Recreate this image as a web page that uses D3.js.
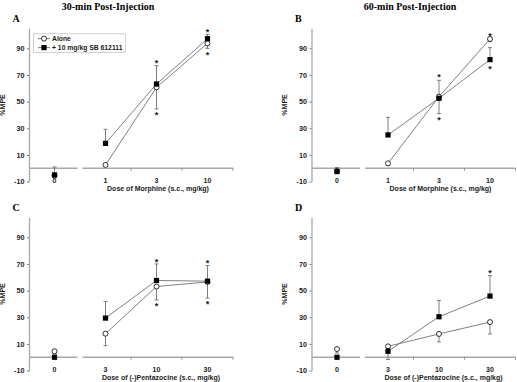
<!DOCTYPE html>
<html>
<head>
<meta charset="utf-8">
<script src="https://cdn.jsdelivr.net/npm/d3@7"></script>
<style>
  body { margin: 0; background: #fff; }
  svg { display: block; }
</style>
</head>
<body>
<div id="chart"></div>
<script>
// ── Data ───────────────────────────────────────
const MORPHINE_DOSES = ["0", "1", "3", "10"];
const PENTA_DOSES    = ["0", "3", "10", "30"];
const Y_TICKS        = [-10, 10, 30, 50, 70, 90];
const SERIES_NAMES   = ["Alone", "+ 10 mg/kg SB 612111"];
const COL_TITLES     = ["30-min Post-Injection", "60-min Post-Injection"];

// %MPE means; "alone" error bars point down, "SB" error bars point up
const A_ALONE     = [-5.5, 2.5, 60.7, 93.7];
const A_ALONE_SEM = [1, 1, 16.2, 3.7];
const A_SB        = [-5, 18.7, 63.2, 97.2];
const A_SB_SEM    = [6, 10.5, 13.8, 3.3];
const A_STARS     = [[2, 81], [2, 42], [3, 104], [3, 87]];

const B_ALONE     = [-2, 3.7, 53.7, 97];
const B_ALONE_SEM = [1.5, 1.5, 12.7, 2];
const B_SB        = [-2.5, 25, 52.5, 81.5];
const B_SB_SEM    = [3, 13.2, 13.5, 9];
const B_STARS     = [[2, 70], [2, 38], [3, 101], [3, 76]];

const C_ALONE     = [4.5, 17.7, 53.1, 56.5];
const C_ALONE_SEM = [2, 9, 10.1, 12.1];
const C_SB        = [0, 29.4, 57.6, 57.1];
const C_SB_SEM    = [1, 12.5, 12.4, 11.7];
const C_STARS     = [[2, 73], [2, 40], [3, 72.3], [3, 42]];

const D_ALONE     = [6.2, 8.2, 17.5, 26.4];
const D_ALONE_SEM = [3, 9.9, 6, 8.9];
const D_SB        = [0, 4.5, 30.4, 45.9];
const D_SB_SEM    = [1, 2, 12.2, 15.4];
const D_STARS     = [[3, 64.8]];

const panels = [
  { letter: "A", col: 0, row: 0, doses: MORPHINE_DOSES, xTitle: "Dose of Morphine (s.c., mg/kg)",
    alone: A_ALONE, aloneSem: A_ALONE_SEM, sb: A_SB, sbSem: A_SB_SEM, stars: A_STARS, legend: true },
  { letter: "B", col: 1, row: 0, doses: MORPHINE_DOSES, xTitle: "Dose of Morphine (s.c., mg/kg)",
    alone: B_ALONE, aloneSem: B_ALONE_SEM, sb: B_SB, sbSem: B_SB_SEM, stars: B_STARS },
  { letter: "C", col: 0, row: 1, doses: PENTA_DOSES, xTitle: "Dose of (-)Pentazocine (s.c., mg/kg)",
    alone: C_ALONE, aloneSem: C_ALONE_SEM, sb: C_SB, sbSem: C_SB_SEM, stars: C_STARS },
  { letter: "D", col: 1, row: 1, doses: PENTA_DOSES, xTitle: "Dose of (-)Pentazocine (s.c., mg/kg)",
    alone: D_ALONE, aloneSem: D_ALONE_SEM, sb: D_SB, sbSem: D_SB_SEM, stars: D_STARS }
];

// ── Layout ─────────────────────────────────────
const W = 517, H = 382;
const DX = 282.5, DY = 189;
const AXIS_X = 29, TOP = 28.3, PLOT_W = 204, PLOT_H = 153.3;
const SANS = "'Liberation Sans', Arial, sans-serif";
const SERIF = "'Liberation Serif', 'Times New Roman', serif";
const AXIS_GREY = "#a8a8a8", LINE_GREY = "#606060", INK = "#1a1a1a";

const svg = d3.select("#chart").append("svg").attr("width", W).attr("height", H);

// column titles
COL_TITLES.forEach((t, i) => {
  svg.append("text").attr("x", i === 0 ? 108 : 410).attr("y", 10)
    .attr("text-anchor", "middle").attr("font-family", SERIF)
    .attr("font-weight", "bold").attr("font-size", "10px").attr("fill", "#000")
    .text(t);
});

panels.forEach(drawPanel);

function drawPanel(p) {
  const ox = AXIS_X + p.col * DX;
  const top = TOP + p.row * DY;
  const g = svg.append("g");

  const y = d3.scaleLinear().domain([-10, 105]).range([top + PLOT_H, top]);
  const x = d3.scaleBand().domain(p.doses).range([ox, ox + PLOT_W]).padding(0);
  const cx = d => x(d) + x.bandwidth() / 2;
  const y0 = y(0);

  // panel letter
  g.append("text").attr("x", ox - 16.5).attr("y", top - 6.5)
    .attr("font-family", SERIF).attr("font-weight", "bold").attr("font-size", "10px")
    .attr("fill", "#000").text(p.letter);

  // Y label
  g.append("text")
    .attr("transform", `translate(${ox - 24.5},${y(47.5)}) rotate(-90)`)
    .attr("text-anchor", "middle").attr("font-family", SANS)
    .attr("font-weight", "bold").attr("font-size", "7px").attr("fill", INK)
    .text("%MPE");

  // Y axis
  const yAxis = g.append("g").attr("transform", `translate(${ox},0)`)
    .call(d3.axisLeft(y).tickValues(Y_TICKS).tickFormat(d => String(d))
      .tickSize(2).tickSizeOuter(0).tickPadding(2.5));
  yAxis.select(".domain").attr("stroke", AXIS_GREY).attr("stroke-width", 1.3);
  yAxis.selectAll(".tick line").attr("stroke", "#777");
  yAxis.selectAll("text").attr("font-family", SANS).attr("font-weight", "bold")
    .attr("font-size", "7.2px").style("fill", INK);

  // zero line, broken between first and second dose
  const brk = x(p.doses[1]);
  const zero = g.append("g").attr("stroke", AXIS_GREY).attr("stroke-width", 1.3);
  zero.append("line").attr("x1", ox).attr("x2", brk - 2.5).attr("y1", y0).attr("y2", y0);
  zero.append("line").attr("x1", brk + 2.5).attr("x2", ox + PLOT_W).attr("y1", y0).attr("y2", y0);
  // category boundary ticks
  const bounds = p.doses.slice(2).map(d => x(d)).concat([ox + PLOT_W]);
  g.selectAll(".xtick").data(bounds).join("line")
    .attr("x1", d => d).attr("x2", d => d).attr("y1", y0).attr("y2", y0 + 2.5)
    .attr("stroke", "#777").attr("stroke-width", 0.8);

  // X labels sit at the -10 level
  const xAxis = g.append("g").attr("transform", `translate(0,${y(-10)})`)
    .call(d3.axisBottom(x).tickSize(0));
  xAxis.select(".domain").remove();
  xAxis.selectAll("text").attr("y", 0).attr("dy", "0.15em")
    .attr("font-family", SANS).attr("font-weight", "bold")
    .attr("font-size", "7px").style("fill", INK);

  g.append("text").attr("x", ox + (p.row === 0 ? 129 : 132)).attr("y", y(-10) + 9)
    .attr("text-anchor", "middle").attr("font-family", SANS)
    .attr("font-weight", "bold").attr("font-size", "7px").attr("fill", INK)
    .text(p.xTitle);

  const rows = p.doses.map((d, i) => ({
    d, i, alone: p.alone[i], aloneSem: p.aloneSem[i], sb: p.sb[i], sbSem: p.sbSem[i]
  }));

  // error bars
  const eb = g.append("g").attr("stroke", LINE_GREY).attr("stroke-width", 0.8);
  rows.forEach(r => {
    [[r.sb, r.sb + r.sbSem], [r.alone, r.alone - r.aloneSem]].forEach(([a, b]) => {
      eb.append("line").attr("x1", cx(r.d)).attr("x2", cx(r.d)).attr("y1", y(a)).attr("y2", y(b));
      eb.append("line").attr("x1", cx(r.d) - 2).attr("x2", cx(r.d) + 2).attr("y1", y(b)).attr("y2", y(b));
    });
  });

  // connecting lines (not to dose 0)
  const linked = rows.slice(1);
  ["alone", "sb"].forEach(k => {
    g.append("path").datum(linked)
      .attr("d", d3.line().x(r => cx(r.d)).y(r => y(r[k])))
      .attr("fill", "none").attr("stroke", LINE_GREY).attr("stroke-width", 0.8);
  });

  // markers
  g.selectAll(".alone").data(rows).join("circle")
    .attr("cx", r => cx(r.d)).attr("cy", r => y(r.alone)).attr("r", 2.5)
    .attr("fill", "#fff").attr("stroke", "#000").attr("stroke-width", 0.8);
  g.selectAll(".sb").data(rows).join("rect")
    .attr("x", r => cx(r.d) - 2.6).attr("y", r => y(r.sb) - 2.6)
    .attr("width", 5.2).attr("height", 5.2).attr("fill", "#000");

  // significance stars
  g.selectAll(".star").data(p.stars).join("text")
    .attr("x", s => cx(p.doses[s[0]])).attr("y", s => y(s[1])).attr("dy", "0.6em")
    .attr("text-anchor", "middle").attr("font-family", SANS).attr("font-weight", "bold")
    .attr("font-size", "9px").attr("fill", INK).text("*");

  if (p.legend) drawLegend(g, ox, top);
}

function drawLegend(g, ox, top) {
  const lx = ox + 4.5, ly = top + 5.5;
  g.append("rect").attr("x", lx).attr("y", ly).attr("width", 92).attr("height", 18.5)
    .attr("fill", "#fff").attr("stroke", "#bbb").attr("stroke-width", 0.7);
  SERIES_NAMES.forEach((name, i) => {
    const yy = ly + 4.8 + i * 9;
    const mx = lx + 10.5;
    g.append("line").attr("x1", lx + 4.5).attr("x2", lx + 16.5).attr("y1", yy).attr("y2", yy)
      .attr("stroke", LINE_GREY).attr("stroke-width", 0.8);
    if (i === 0) {
      g.append("circle").attr("cx", mx).attr("cy", yy).attr("r", 2.5)
        .attr("fill", "#fff").attr("stroke", "#000").attr("stroke-width", 0.8);
    } else {
      g.append("rect").attr("x", mx - 2.6).attr("y", yy - 2.6).attr("width", 5.2).attr("height", 5.2)
        .attr("fill", "#000");
    }
    g.append("text").attr("x", lx + 18.5).attr("y", yy).attr("dy", "0.35em")
      .attr("font-family", SANS).attr("font-weight", "bold").attr("font-size", "6.8px")
      .attr("fill", INK).text(name);
  });
}
</script>
</body>
</html>
